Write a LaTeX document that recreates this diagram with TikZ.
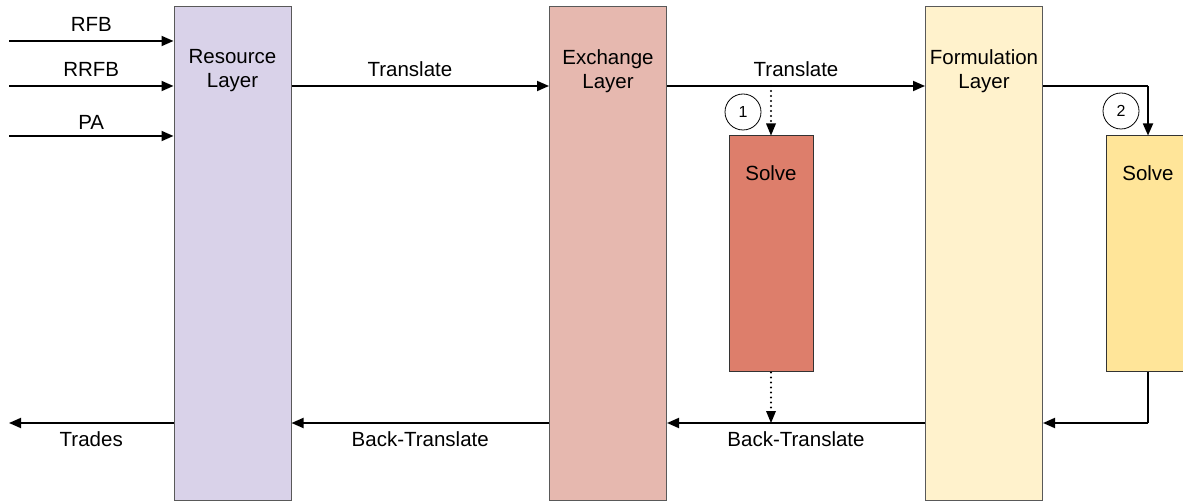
\documentclass[tikz,border=0pt]{standalone}
\usepackage{fontspec}
\setmainfont{Liberation Sans}
\usetikzlibrary{arrows.meta}
\definecolor{resfill}{HTML}{D9D2E9}
\definecolor{exfill}{HTML}{E6B8AF}
\definecolor{solvered}{HTML}{DD7E6B}
\definecolor{formfill}{HTML}{FFF2CC}
\definecolor{solveyel}{HTML}{FFE599}
\definecolor{edge}{HTML}{595959}
\begin{document}
\begin{tikzpicture}[x=1pt,y=-1pt,
  font=\fontsize{20.5}{24}\selectfont,
  layer/.style={draw=edge,line width=1pt,minimum width=117pt,minimum height=493pt,inner sep=0pt},
  solvebox/.style={draw=black!80,line width=1pt,minimum width=84pt,minimum height=236pt,inner sep=0pt},
  flow/.style={line width=1.8pt,-{Triangle[length=12pt,width=10pt]}},
  dots/.style={line width=2.2pt,line cap=round,dash pattern=on 0pt off 5pt,
    -{Triangle[length=12pt,width=10pt,line width=0pt]}},
  step num/.style={draw,circle,line width=0.8pt,minimum size=36pt,inner sep=0pt,font=\fontsize{16}{18}\selectfont},
  lbl/.style={inner sep=0pt}]
\useasboundingbox (0,0) rectangle (1183,502);
\begin{scope}
\clip (0,0) rectangle (1183,502);
% layers
\node[layer,fill=resfill] (res) at (232.5,253.5) {};
\node[layer,fill=exfill] (ex) at (608,253.5) {};
\node[layer,fill=formfill] (form) at (984,253.5) {};
\node[solvebox,fill=solvered] (s1) at (771,254) {};
\node[solvebox,fill=solveyel] (s2) at (1148,254) {};
\end{scope}
% box texts
\node[lbl,align=center] (rest) at (232.5,71) {Resource\\Layer};
\node[lbl,align=center] (ext) at (608,71) {Exchange\\Layer};
\node[lbl,align=center] (formt) at (984,71) {Formulation\\Layer};
\node[lbl] (s1t) at (771,173) {Solve};
\node[lbl] (s2t) at (1148,173) {Solve};
% inputs
\coordinate (inA) at (9,41);
\coordinate (inB) at (9,86);
\coordinate (inC) at (9,136);
\coordinate (outT) at (9,423);
\draw[flow] (inA) -- (inA -| res.west) node[lbl,midway,above=9pt] (rfb) {RFB};
\draw[flow] (inB) -- (inB -| res.west) node[lbl,midway,above=9pt] (rrfb) {RRFB};
\draw[flow] (inC) -- (inC -| res.west) node[lbl,midway,above=6pt] (pa) {PA};
% forward translation
\draw[flow] (res.east |- inB) -- (ex.west |- inB) node[lbl,pos=0.46,above=8pt] (tr1) {Translate};
\draw[flow] (ex.east |- inB) -- (form.west |- inB) node[lbl,midway,above=8pt] (tr2) {Translate};
% solve branches
\coordinate (k1) at (s1.north |- inB);
\draw[dots] (k1) -- (s1.north);
\node[step num] (c1) at (743,112) {1};
\coordinate (k2) at (s2.north |- inB);
\draw[flow,-] (form.east |- inB) -- (k2);
\draw[flow] (k2) -- (s2.north);
\node[step num] (c2) at (1121,111) {2};
% backward translation
\coordinate (b2) at (s2.south |- outT);
\draw[line width=1.8pt] (s2.south) -- (b2);
\draw[flow] (b2) -- (form.east |- outT);
\draw[flow] (form.west |- outT) -- (ex.east |- outT) node[lbl,midway,below=8pt] (bt2) {Back-Translate};
\coordinate (k3) at (s1.south |- outT);
\draw[dots] (s1.south) -- (k3);
\draw[flow] (ex.west |- outT) -- (res.east |- outT) node[lbl,midway,below=8pt] (bt1) {Back-Translate};
\draw[flow] (res.west |- outT) -- (outT) node[lbl,midway,below=8pt] (tr) {Trades};
\end{tikzpicture}
\end{document}
